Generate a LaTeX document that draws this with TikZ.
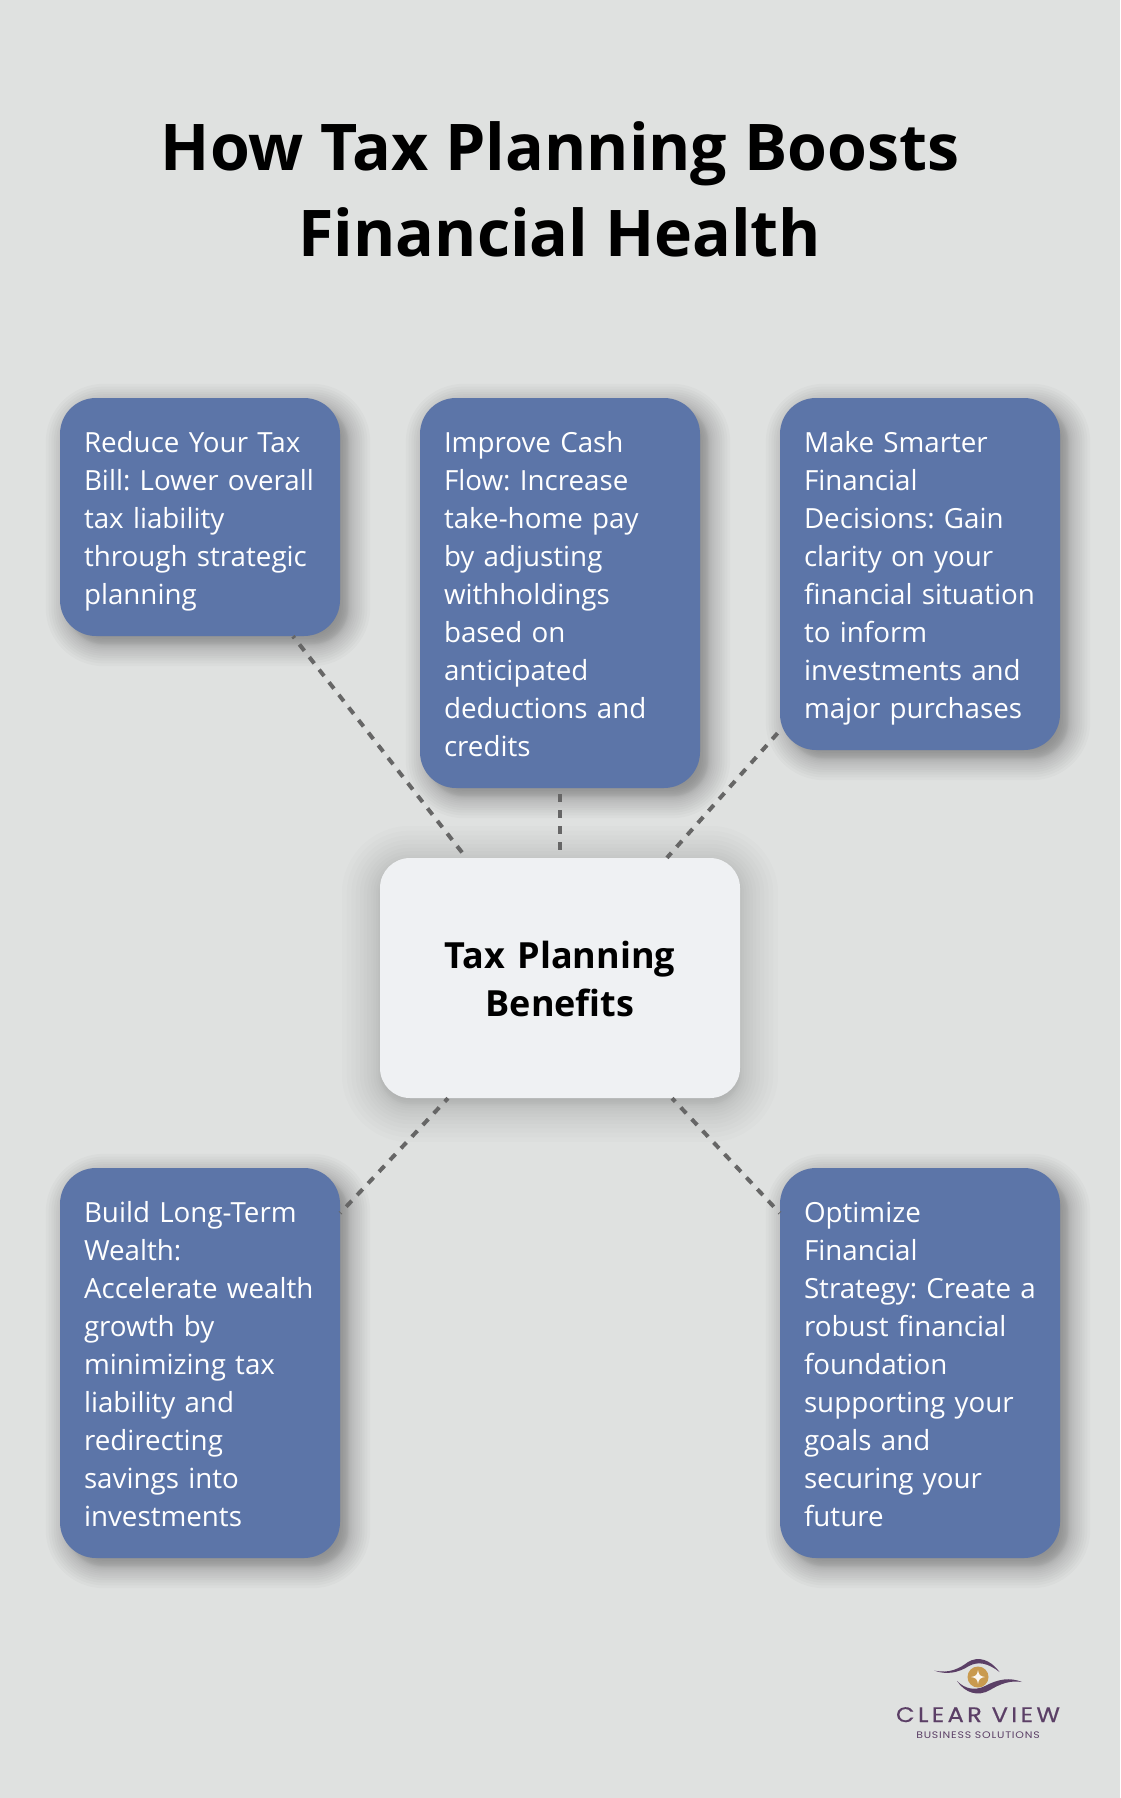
\documentclass[tikz,border=0pt]{standalone}
\usepackage{fontspec}
\setmainfont{Open Sans}
\newfontfamily\logofont[FakeStretch=1.15]{Poppins}
\usetikzlibrary{backgrounds,calc}
\definecolor{bgc}{HTML}{DFE1E0}
\definecolor{bluebox}{HTML}{5C75A8}
\definecolor{centerbox}{HTML}{EFF1F3}
\definecolor{linec}{HTML}{666666}
\definecolor{logop}{HTML}{5B3F66}
\definecolor{logog}{HTML}{C99A4F}
\frenchspacing
\tikzset{
  benefit/.style={rectangle,rounded corners=36pt,fill=bluebox,text=white,minimum width=280pt,inner xsep=0pt,inner ysep=0pt,
    text width=232pt,align=left,font=\fontsize{27.75}{38}\selectfont,
    execute at begin node={\lefthyphenmin=64 \rule{0pt}{30pt}},execute at end node={\rule[-8pt]{0pt}{8pt}}},
  hub/.style={rectangle,rounded corners=30pt,fill=centerbox,text=black,minimum width=360pt,minimum height=240pt,inner sep=0pt,
    text width=320pt,align=center,font=\fontsize{36}{48}\selectfont\bfseries,
    execute at begin node={\rule{0pt}{38.2pt}},execute at end node={\rule[-9.8pt]{0pt}{9.8pt}}},
  link/.style={draw=linec,line width=4pt,dash pattern=on 8pt off 8pt},
  heading/.style={text=black,align=center,font=\fontsize{64.4}{85.5}\selectfont\bfseries,inner sep=0pt},
}
% #1 node, #2 dx, #3 dy, #4 spread, #5 layer opacity, #6 radius
\newcommand{\softshadow}[6]{%
  \begin{pgfonlayer}{background}
  \foreach \i in {0,...,23}{%
    \pgfmathsetmacro\uu{1-2*\i/23}%
    \pgfmathsetmacro\ee{#4*sign(\uu)*pow(abs(\uu),1.5)}%
    \pgfmathsetmacro\rr{max(#6+\ee,1)}%
    \fill[black,fill opacity=#5,rounded corners=\rr pt]
      ($(#1.north west)+(#2-\ee,#3-\ee)$) rectangle ($(#1.south east)+(#2+\ee,#3+\ee)$);
  }%
  \end{pgfonlayer}%
}
\begin{document}
\begin{tikzpicture}[x=1pt,y=-1pt]
\useasboundingbox (0,0) rectangle (1120,1798);
\begin{pgfonlayer}{background}
\fill[bgc] (0,0) rectangle (1120,1798);
\end{pgfonlayer}
\node[heading] (title) at (560,189.5) {How Tax Planning Boosts\\Financial Health};
\node[benefit,minimum height=238pt] (b1) at (200,517) {Reduce Your Tax\\Bill:~Lower~overall\\tax liability\\through~strategic\\planning};
\node[benefit,minimum height=390pt] (b2) at (560,593) {Improve Cash\\Flow: Increase\\take-home pay\\by adjusting\\withholdings\\based on\\anticipated\\deductions~and\\credits};
\node[benefit,minimum height=352pt] (b3) at (920,574) {Make Smarter\\Financial\\Decisions: Gain\\clarity on your\\financial~situation\\to inform\\investments~and\\major~purchases};
\node[hub] (hub) at (560,978) {Tax Planning\\Benefits};
\node[benefit,minimum height=390pt] (b4) at (200,1363) {Build Long-Term\\Wealth:\\Accelerate~wealth\\growth by\\minimizing tax\\liability and\\redirecting\\savings into\\investments};
\node[benefit,minimum height=390pt] (b5) at (920,1363) {Optimize\\Financial\\Strategy:~Create~a\\robust~financial\\foundation\\supporting~your\\goals and\\securing your\\future};
\softshadow{b1}{8}{8}{22}{0.021}{36}
\softshadow{b2}{8}{8}{22}{0.021}{36}
\softshadow{b3}{8}{8}{22}{0.021}{36}
\softshadow{b4}{8}{8}{22}{0.021}{36}
\softshadow{b5}{8}{8}{22}{0.021}{36}
\softshadow{hub}{0}{6}{38}{0.012}{30}
\draw[link,dash phase=5.5pt] (b1) -- (hub);
\draw[link,dash phase=10pt] (b2) -- (hub);
\draw[link,dash phase=12.6pt] (b3) -- (hub);
\draw[link,dash phase=3.3pt] (hub) -- (b4);
\draw[link,dash phase=3.3pt] (hub) -- (b5);
% logo
\fill[logop] (934,1670.5) .. controls (950,1674) and (960,1668) .. (968,1662) .. controls (978,1656) and (990,1659) .. (999.5,1672) .. controls (988,1663) and (978,1661) .. (969,1666) .. controls (958,1673) and (946,1675) .. (934,1670.5) -- cycle;
\fill[logop] (957,1681) .. controls (965,1689) and (975,1691) .. (985,1686) .. controls (998,1679) and (1010,1677) .. (1022,1682) .. controls (1010,1680) and (1000,1684) .. (990,1690) .. controls (978,1697) and (965,1693) .. (957,1681) -- cycle;
\node[circle,fill=logog,minimum size=21pt,inner sep=0pt] (eye) at (978,1677) {};
\fill[white!92!logog] (978,1670) .. controls (978.8,1675) and (980,1676.2) .. (985,1677) .. controls (980,1677.8) and (978.8,1679) .. (978,1684) .. controls (977.2,1679) and (976,1677.8) .. (971,1677) .. controls (976,1676.2) and (977.2,1675) .. (978,1670) -- cycle;
\node[text=logop,inner sep=0pt,anchor=base,font=\logofont\fontsize{21}{24}\selectfont] (brand) at (978,1722) {\addfontfeature{LetterSpace=16,FakeBold=0.4}CLEAR VIEW};
\node[text=logop,inner sep=0pt,anchor=base,font=\logofont\fontsize{9.5}{12}\selectfont] (tag) at (978,1738) {\addfontfeature{LetterSpace=8.5}BUSINESS SOLUTIONS};
\end{tikzpicture}
\end{document}
